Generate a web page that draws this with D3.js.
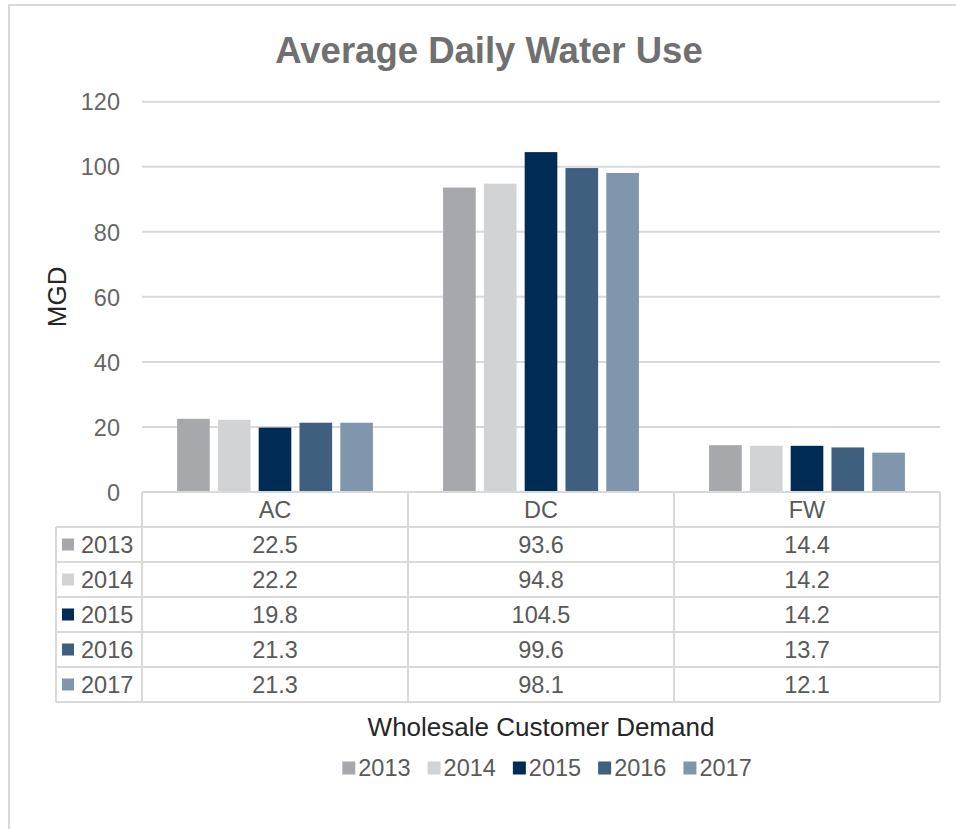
<!DOCTYPE html>
<html>
<head>
<meta charset="utf-8">
<script src="https://cdn.jsdelivr.net/npm/d3@7/dist/d3.min.js"></script>
<style>
  html, body { margin: 0; padding: 0; background: #fff; }
  svg { display: block; font-family: "Liberation Sans", Arial, sans-serif; }
</style>
</head>
<body>
<svg id="chart" width="956" height="829"></svg>
<script>
const categories = ["AC", "DC", "FW"];
const years = ["2013", "2014", "2015", "2016", "2017"];
const values2013 = [22.5, 93.6, 14.4];
const values2014 = [22.2, 94.8, 14.2];
const values2015 = [19.8, 104.5, 14.2];
const values2016 = [21.3, 99.6, 13.7];
const values2017 = [21.3, 98.1, 12.1];
const yTicks = [0, 20, 40, 60, 80, 100, 120];
const seriesColors = ["#a7a8ab", "#d2d3d5", "#002b54", "#3f5f7f", "#7f96ac"];
const titleText = "Average Daily Water Use";
const yTitle = "MGD";
const xTitle = "Wholesale Customer Demand";

const seriesValues = [values2013, values2014, values2015, values2016, values2017];
const series = years.map((y, i) => ({ year: y, values: seriesValues[i], color: seriesColors[i] }));

const svg = d3.select("#chart");
const gridColor = "#d9d9d9";

// outer frame
svg.append("rect").attr("x", 9).attr("y", 5).attr("width", 1000).attr("height", 900)
  .attr("fill", "none").attr("stroke", gridColor).attr("stroke-width", 2);

const plotLeft = 142, plotRight = 940, plotTop = 101.7, plotBottom = 492;
const x = d3.scaleBand().domain(categories).range([plotLeft, plotRight]);
const xSub = d3.scaleBand().domain(years).range([0, x.bandwidth()]).paddingInner(0.2).paddingOuter(0.86);
const y = d3.scaleLinear().domain([0, 120]).range([plotBottom, plotTop]);

// title
svg.append("text").attr("x", 489).attr("y", 63).attr("text-anchor", "middle")
  .attr("font-size", 36.5).attr("font-weight", "bold").attr("fill", "#707070").text(titleText);

// gridlines
svg.append("g").selectAll("line").data(yTicks.filter(d => d > 0)).join("line")
  .attr("x1", plotLeft).attr("x2", plotRight)
  .attr("y1", d => y(d)).attr("y2", d => y(d))
  .attr("stroke", gridColor).attr("stroke-width", 2);

// y axis labels
const yAxis = d3.axisLeft(y).tickValues(yTicks).tickSize(0).tickPadding(0);
const yg = svg.append("g").attr("transform", `translate(120,0)`).call(yAxis);
yg.select(".domain").remove();
yg.selectAll("text").attr("font-size", 23.5).attr("fill", "#666666")
  .attr("font-family", "Liberation Sans, Arial, sans-serif").attr("dy", "0.35em");

// bars
const groups = svg.append("g").selectAll("g").data(series).join("g").attr("fill", d => d.color);
groups.selectAll("rect").data(d => d.values.map((v, i) => ({ v, cat: categories[i], year: d.year }))).join("rect")
  .attr("x", d => x(d.cat) + xSub(d.year))
  .attr("width", xSub.bandwidth())
  .attr("y", d => y(d.v))
  .attr("height", d => y(0) - y(d.v));

// y axis title
svg.append("text").attr("transform", `translate(66,${(plotTop + plotBottom) / 2}) rotate(-90)`)
  .attr("text-anchor", "middle").attr("font-size", 26).attr("fill", "#262626").text(yTitle);

// data table
const rowH = 35;
const tableTop = plotBottom;
const tableLeft = 56;
const nRows = years.length + 1;
const tableBottom = tableTop + rowH * nRows;
const tg = svg.append("g");
// horizontal lines
tg.append("line").attr("x1", plotLeft).attr("x2", plotRight).attr("y1", tableTop).attr("y2", tableTop)
  .attr("stroke", gridColor).attr("stroke-width", 2);
for (let r = 1; r <= nRows; r++) {
  tg.append("line").attr("x1", tableLeft).attr("x2", plotRight)
    .attr("y1", tableTop + r * rowH).attr("y2", tableTop + r * rowH)
    .attr("stroke", gridColor).attr("stroke-width", 2);
}
// vertical lines
tg.append("line").attr("x1", tableLeft).attr("x2", tableLeft).attr("y1", tableTop + rowH).attr("y2", tableBottom)
  .attr("stroke", gridColor).attr("stroke-width", 2);
const vx = [plotLeft, ...categories.map(c => x(c) + x.bandwidth())];
vx.forEach(vv => tg.append("line").attr("x1", vv).attr("x2", vv).attr("y1", tableTop).attr("y2", tableBottom)
  .attr("stroke", gridColor).attr("stroke-width", 2));
// header
tg.selectAll("text.hdr").data(categories).join("text").attr("class", "hdr")
  .attr("x", d => x(d) + x.bandwidth() / 2).attr("y", tableTop + rowH / 2).attr("dy", "0.36em")
  .attr("text-anchor", "middle").attr("font-size", 23.5).attr("fill", "#595959").text(d => d);
// rows
series.forEach((s, i) => {
  const cy = tableTop + rowH * (i + 1) + rowH / 2;
  tg.append("rect").attr("x", 62).attr("y", cy - 6).attr("width", 12).attr("height", 12).attr("fill", s.color);
  tg.append("text").attr("x", 81).attr("y", cy).attr("dy", "0.36em").attr("font-size", 23.5)
    .attr("fill", "#595959").text(s.year);
  s.values.forEach((v, j) => {
    tg.append("text").attr("x", x(categories[j]) + x.bandwidth() / 2).attr("y", cy).attr("dy", "0.36em")
      .attr("text-anchor", "middle").attr("font-size", 23.5).attr("fill", "#595959").text(d3.format(".1f")(v));
  });
});

// x axis title
svg.append("text").attr("x", 541).attr("y", 727).attr("dy", "0.36em").attr("text-anchor", "middle")
  .attr("font-size", 26).attr("fill", "#262626").text(xTitle);

// legend
const lg = svg.append("g");
const items = lg.selectAll("g").data(series).join("g");
items.append("rect").attr("width", 13).attr("height", 13).attr("y", -6.5).attr("fill", d => d.color);
items.append("text").attr("x", 16).attr("dy", "0.36em").attr("font-size", 23.5).attr("fill", "#595959").text(d => d.year);
let off = 0;
const gap = 17;
items.each(function () {
  const w = this.getBBox().width;
  d3.select(this).attr("transform", `translate(${off},0)`);
  off += w + gap;
});
const totalW = off - gap;
lg.attr("transform", `translate(${547 - totalW / 2},768)`);
</script>
</body>
</html>
